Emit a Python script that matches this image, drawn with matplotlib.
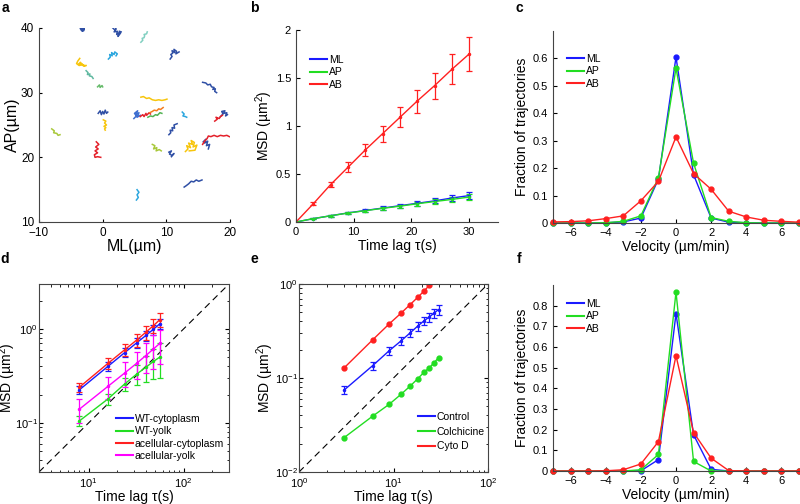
import numpy as np
import matplotlib
matplotlib.use("Agg")
import matplotlib.pyplot as plt
from matplotlib import ticker
from matplotlib.lines import Line2D

plt.rcParams['font.family'] = ['Liberation Sans', 'DejaVu Sans']
plt.rcParams['mathtext.fontset'] = 'custom'
plt.rcParams['mathtext.rm'] = 'Liberation Sans'
plt.rcParams['xtick.direction'] = 'in'
plt.rcParams['ytick.direction'] = 'in'
plt.rcParams['xtick.major.size'] = 3
plt.rcParams['ytick.major.size'] = 3
plt.rcParams['xtick.minor.size'] = 1.8
plt.rcParams['ytick.minor.size'] = 1.8
plt.rcParams['axes.linewidth'] = 0.8
plt.rcParams['axes.edgecolor'] = '#444444'

# ---- panel a: trajectories (colour, x, y) in um ----
DB, CY, YE, RD = '#2f4fa5', '#2ba6de', '#f7c50c', '#e4202a'
tracks = [
    (DB, [-3.5, -3.1, -3.3, -2.9, -3.2, -2.9, -3.4, -3.0], [39.9, 40.1, 39.6, 39.8, 39.5, 40.0, 39.7, 39.6]),
    (DB, [1.6, 1.9, 2.1, 1.8, 2.3, 2.2, 2.6, 2.4, 2.8, 2.6, 2.9], [40.0, 39.7, 39.9, 39.4, 39.5, 39.0, 39.3, 38.7, 39.2, 39.5, 39.4]),
    ('#80cfc0', [6.0, 6.3, 6.2, 6.5, 6.6, 6.5, 6.9, 7.0], [37.8, 38.1, 38.4, 38.5, 38.8, 39.0, 39.1, 39.4]),
    (DB, [10.6, 10.9, 10.7, 11.0, 10.9, 11.3, 11.2, 11.6, 11.5, 12.0], [35.2, 35.6, 35.9, 36.1, 36.5, 36.2, 36.7, 36.4, 36.0, 36.3]),
    (CY, [0.9, 1.2, 1.1, 1.5, 1.4, 1.8, 1.9, 2.3, 2.1], [35.2, 35.5, 35.9, 35.7, 36.2, 35.9, 36.3, 36.0, 35.7]),
    (YE, [-3.6, -3.9, -4.1, -3.7, -3.3, -2.8, -3.2, -3.8, -3.5, -3.1, -2.6], [35.3, 34.9, 34.5, 34.2, 34.3, 34.1, 34.4, 34.4, 34.7, 34.2, 34.2]),
    ('#5fb8a0', [-2.6, -2.3, -2.4, -2.0, -2.1, -1.7, -1.5], [33.4, 33.1, 32.8, 32.9, 32.6, 32.5, 32.2]),
    ('#66bb6a', [-0.8, -0.5, -0.4, -0.1, 0.0], [30.9, 31.2, 30.8, 31.1, 30.9]),
    (DB, [15.7, 16.2, 16.5, 16.9, 17.1, 17.5, 17.3, 17.7, 17.6, 17.9], [31.6, 31.5, 31.2, 31.3, 30.9, 30.8, 30.5, 30.6, 30.2, 30.0]),
    (YE, [6.0, 6.4, 6.9, 7.3, 7.8, 8.3, 8.8, 9.3, 9.8, 10.1], [29.3, 29.4, 29.1, 29.2, 28.9, 28.8, 28.9, 28.8, 28.9, 29.0]),
    (DB, [-0.7, -0.4, -0.2, 0.0, 0.2, 0.4, 0.6, 0.8], [26.8, 27.2, 26.6, 27.1, 26.7, 27.3, 26.8, 27.0]),
    (YE, [0.1, 0.5, 0.3, 0.6, 0.2, 0.5, 0.3, 0.4], [25.8, 25.6, 25.3, 25.0, 24.8, 24.6, 24.4, 24.2]),
    ('#3f6fd0', [4.9, 5.3, 5.0, 5.5, 5.2, 5.7, 5.4, 5.9], [26.0, 26.4, 26.8, 27.2, 26.6, 26.9, 26.2, 26.5]),
    (RD, [5.9, 6.3, 6.5, 6.8, 6.9, 7.3, 7.5], [26.3, 26.6, 26.3, 26.8, 26.5, 26.9, 26.7]),
    ('#f47c20', [7.4, 7.8, 8.1, 8.5, 8.8, 9.1, 9.5], [26.9, 27.1, 27.3, 27.2, 27.5, 27.4, 27.7]),
    ('#52b352', [7.1, 7.5, 7.9, 8.3, 8.6, 9.0, 9.3], [26.2, 26.4, 26.3, 26.6, 26.5, 26.9, 26.8]),
    (CY, [12.5, 12.8, 12.6, 13.0, 13.2], [27.0, 26.7, 26.4, 26.3, 26.2]),
    (DB, [18.5, 18.9, 18.7, 19.2, 19.0, 19.5, 19.3, 19.6], [26.3, 26.7, 27.1, 27.2, 26.8, 26.9, 26.4, 26.6]),
    (RD, [17.6, 18.0, 17.8, 18.3, 18.5, 18.8], [25.6, 25.9, 26.2, 26.0, 26.3, 26.5]),
    ('#a8c83a', [-8.0, -7.6, -7.7, -7.2, -7.0, -6.7], [24.4, 24.1, 23.8, 23.7, 23.4, 23.5]),
    (RD, [-1.0, -0.6, -1.1, -0.7, -1.2, -0.8, -1.3, -1.2, -0.8, -0.3], [22.4, 22.0, 21.6, 21.3, 21.0, 20.7, 20.4, 20.0, 20.1, 20.0]),
    (DB, [10.4, 10.7, 10.6, 11.0, 10.9, 11.3, 11.2, 11.7], [23.5, 23.8, 24.2, 24.1, 24.6, 24.5, 25.0, 25.2]),
    ('#a8c83a', [7.8, 8.2, 8.0, 8.5, 8.4, 8.9, 9.2], [22.0, 21.8, 21.3, 21.5, 21.0, 21.2, 21.0]),
    (DB, [10.4, 10.8, 10.5, 10.9, 11.2, 10.8], [20.8, 21.0, 20.5, 20.3, 20.6, 20.1]),
    (YE, [13.0, 13.4, 13.2, 13.8, 13.5, 14.1, 13.9, 14.4, 14.2, 14.8, 14.5, 13.6], [20.9, 21.3, 21.8, 21.5, 22.2, 22.0, 22.6, 22.3, 21.6, 21.9, 21.1, 21.0]),
    (DB, [15.8, 16.2, 16.0, 16.5, 16.3, 16.8, 16.6], [22.4, 22.8, 22.2, 22.5, 21.8, 22.0, 21.3]),
    (RD, [15.7, 16.0, 16.4, 16.6, 17.0, 17.5, 18.0, 18.5, 19.0, 19.5, 19.9], [22.0, 22.5, 22.9, 23.3, 23.2, 23.4, 23.2, 23.4, 23.3, 23.4, 23.2]),
    (DB, [12.8, 13.1, 13.5, 13.9, 14.3, 14.7, 15.1, 15.6], [15.4, 15.6, 15.9, 16.3, 16.2, 16.5, 16.3, 16.5]),
    (CY, [5.4, 5.7, 5.4, 5.6, 5.3], [15.0, 14.6, 14.2, 13.8, 13.4]),
]

# ---- panel b: MSD vs time lag ----
lag_b = [0, 3, 6, 9, 12, 15, 18, 21, 24, 27, 30]
msd_ml = [0, 0.035, 0.065, 0.095, 0.12, 0.145, 0.17, 0.195, 0.22, 0.25, 0.275]
msd_ap = [0, 0.035, 0.065, 0.093, 0.118, 0.142, 0.165, 0.19, 0.213, 0.235, 0.26]
msd_ab = [0, 0.19, 0.39, 0.57, 0.75, 0.92, 1.09, 1.26, 1.42, 1.59, 1.75]
err_ml = [0, 0.006, 0.009, 0.012, 0.015, 0.018, 0.021, 0.024, 0.027, 0.03, 0.033]
err_ap = [0, 0.005, 0.008, 0.01, 0.012, 0.014, 0.017, 0.02, 0.022, 0.025, 0.028]
err_ab = [0, 0.015, 0.03, 0.05, 0.065, 0.085, 0.105, 0.12, 0.135, 0.155, 0.175]

# ---- panels c, f: velocity distributions ----
vel = [-7, -6, -5, -4, -3, -2, -1, 0, 1, 2, 3, 4, 5, 6, 7]
c_ml = [0, 0, 0, 0.001, 0.004, 0.018, 0.16, 0.605, 0.176, 0.018, 0.003, 0.001, 0, 0, 0]
c_ap = [0, 0, 0, 0.001, 0.006, 0.026, 0.165, 0.565, 0.218, 0.02, 0.006, 0.001, 0, 0, 0]
c_ab = [0.004, 0.005, 0.008, 0.016, 0.026, 0.081, 0.152, 0.314, 0.18, 0.123, 0.043, 0.022, 0.01, 0.006, 0.003]
f_ml = [0, 0, 0, 0, 0, 0.001, 0.055, 0.762, 0.175, 0.008, 0, 0, 0, 0, 0]
f_ap = [0, 0, 0, 0, 0, 0.006, 0.08, 0.866, 0.046, 0, 0, 0, 0, 0, 0]
f_ab = [0, 0, 0, 0.001, 0.006, 0.034, 0.142, 0.558, 0.186, 0.062, 0.002, 0, 0, 0, 0]

# ---- panel d: log-log MSD, cytoplasm vs yolk ----
lag_d = [8, 16, 24, 32, 40, 48, 56]
d_wt_cyto = [0.225, 0.40, 0.56, 0.71, 0.85, 0.99, 1.13]
d_wt_yolk = [0.105, 0.18, 0.26, 0.33, 0.39, 0.45, 0.50]
d_ac_cyto = [0.24, 0.43, 0.60, 0.76, 0.92, 1.08, 1.25]
d_ac_yolk = [0.14, 0.245, 0.34, 0.43, 0.52, 0.61, 0.70]
e_wt_cyto = [0.02, 0.04, 0.06, 0.08, 0.10, 0.12, 0.14]
e_wt_yolk = [0.012, 0.025, 0.04, 0.08, 0.12, 0.16, 0.2]
e_ac_cyto = [0.025, 0.06, 0.09, 0.12, 0.15, 0.18, 0.21]
e_ac_yolk = [0.04, 0.065, 0.1, 0.14, 0.18, 0.24, 0.28]

# ---- panel e: drug treatments ----
lag_e = [3, 6, 9, 12, 15, 18, 21, 24, 27, 30]
e_control = [0.0744, 0.135, 0.195, 0.248, 0.302, 0.356, 0.405, 0.447, 0.492, 0.535]
e_control_err = [0.007, 0.013, 0.019, 0.025, 0.03, 0.036, 0.042, 0.048, 0.055, 0.065]
e_colch = [0.0232, 0.0392, 0.0525, 0.067, 0.082, 0.098, 0.115, 0.129, 0.146, 0.165]
lag_cyto = [3, 6, 9, 12, 15, 18, 21, 24]
e_cytod = [0.128, 0.254, 0.376, 0.489, 0.604, 0.72, 0.84, 0.97]

BLUE, GREEN, RED, MAG = '#1a1aff', '#22dd22', '#ff2020', '#ff00ff'
TICK_FS, LAB_FS = 8, 10

fig = plt.figure(figsize=(8, 5.04), dpi=100)
W, H = 800.0, 504.0


def box(l, t, r, b):
    return [l / W, 1 - b / H, (r - l) / W, (b - t) / H]


def fmt(v, p):
    return f'{v:g}'.replace('-', '\u2212')


def open_axes(ax):
    ax.spines['top'].set_visible(False)
    ax.spines['right'].set_visible(False)


def place_labels(ax, rect, xlab_y, ylab_x, half=7):
    # label centres given in figure pixels; anchors sit on the text's inner edge
    l, t, r, b = rect
    ax.xaxis.set_label_coords(0.5, -(xlab_y - half - b) / (b - t))
    ax.yaxis.set_label_coords((ylab_x + half - l) / (r - l), 0.5)


def add_legend(ax, items, x, y, spacing=0.22):
    handles = [Line2D([], [], color=c, lw=1.5) for c, _ in items]
    ax.legend(handles, [n for _, n in items], loc='upper left',
              bbox_to_anchor=(x / W, 1 - y / H), bbox_transform=fig.transFigure,
              frameon=False, fontsize=7.5, handlelength=1.6, handletextpad=0.2,
              labelspacing=spacing, borderpad=0, borderaxespad=0)


# a
ra = (39, 28, 230, 222)
ax = fig.add_axes(box(*ra))
for col, xs, ys in tracks:
    ax.plot(xs, ys, color=col, lw=1.1)
ax.set_xlim(-10, 20)
ax.set_ylim(10, 40)
ax.set_xticks([-10, 0, 10, 20])
ax.set_yticks([10, 20, 30, 40])
ax.xaxis.set_major_formatter(ticker.FuncFormatter(fmt))
ax.tick_params(labelsize=TICK_FS + 0.5, length=2)
ax.set_xlabel('ML(µm)', fontsize=11.5)
ax.set_ylabel('AP(µm)', fontsize=11.5)
place_labels(ax, ra, 247, 12, half=8)
open_axes(ax)

# b
rb = (296, 30, 498, 222)
ax = fig.add_axes(box(*rb))
for ys, es, col in [(msd_ml, err_ml, BLUE), (msd_ap, err_ap, GREEN), (msd_ab, err_ab, RED)]:
    ax.plot(lag_b, ys, color=col, lw=1)
    ax.errorbar(lag_b[1:], ys[1:], yerr=es[1:], fmt='.', ms=3, color=col, ecolor=col,
                elinewidth=0.9, capsize=2, capthick=0.9)
ax.set_xlim(0, 35)
ax.set_ylim(0, 2)
ax.set_xticks([0, 10, 20, 30])
ax.set_yticks([0, 0.5, 1, 1.5, 2])
ax.yaxis.set_major_formatter(ticker.FuncFormatter(fmt))
ax.tick_params(labelsize=TICK_FS)
ax.set_xlabel('Time lag τ(s)', fontsize=LAB_FS)
ax.set_ylabel('MSD (µm$^2$)', fontsize=LAB_FS)
place_labels(ax, rb, 246, 268)
add_legend(ax, [(BLUE, 'ML'), (GREEN, 'AP'), (RED, 'AB')], 310, 55)
open_axes(ax)


def velocity_panel(rect, ml, ap, ab, ymax, yticks, xlab_y, leg_y):
    ax = fig.add_axes(box(*rect))
    for ys, col in [(ml, BLUE), (ap, GREEN), (ab, RED)]:
        ax.plot(vel, ys, color=col, lw=1, marker='.', ms=7, clip_on=False)
    ax.set_xlim(-7, 7)
    ax.set_ylim(0, ymax)
    ax.set_xticks([-6, -4, -2, 0, 2, 4, 6])
    ax.set_yticks(yticks)
    ax.xaxis.set_major_formatter(ticker.FuncFormatter(fmt))
    ax.yaxis.set_major_formatter(ticker.FuncFormatter(fmt))
    ax.tick_params(labelsize=TICK_FS)
    ax.set_xlabel('Velocity (µm/min)', fontsize=LAB_FS)
    ax.set_ylabel('Fraction of trajectories', fontsize=LAB_FS)
    place_labels(ax, rect, xlab_y, 522)
    add_legend(ax, [(BLUE, 'ML'), (GREEN, 'AP'), (RED, 'AB')], 567, leg_y)
    open_axes(ax)
    return ax


# c
velocity_panel((553, 31, 799, 223), c_ml, c_ap, c_ab, 0.7, [0, 0.1, 0.2, 0.3, 0.4, 0.5, 0.6], 247, 54)
# f
velocity_panel((553, 285, 799, 471), f_ml, f_ap, f_ab, 0.9, [0, 0.1, 0.2, 0.3, 0.4, 0.5, 0.6, 0.7, 0.8], 495, 299)


def log_axes(ax, rect, ylab_x):
    ax.set_xscale('log')
    ax.set_yscale('log')
    ax.tick_params(which='both', top=True, right=True, labelsize=TICK_FS)
    ax.tick_params(axis='x', which='major', pad=3)
    ax.tick_params(axis='y', which='major', pad=1)
    ax.xaxis.set_minor_formatter(ticker.NullFormatter())
    ax.yaxis.set_minor_formatter(ticker.NullFormatter())
    ax.set_xlabel('Time lag τ(s)', fontsize=LAB_FS)
    ax.set_ylabel('MSD (µm$^2$)', fontsize=LAB_FS)
    place_labels(ax, rect, 497.5, ylab_x, half=7.5)


# d
rd = (39, 284, 229, 472)
ax = fig.add_axes(box(*rd))
ax.plot([3, 300], [0.03, 3], color='k', lw=0.8, dashes=(6, 4))
for ys, es, col in [(d_wt_cyto, e_wt_cyto, BLUE), (d_wt_yolk, e_wt_yolk, GREEN),
                    (d_ac_cyto, e_ac_cyto, RED), (d_ac_yolk, e_ac_yolk, MAG)]:
    ax.plot(lag_d, ys, color=col, lw=1)
    ax.errorbar(lag_d, ys, yerr=es, fmt='.', ms=3, color=col, ecolor=col,
                elinewidth=0.9, capsize=2, capthick=0.9)
ax.set_xlim(3, 300)
ax.set_ylim(0.03, 3)
log_axes(ax, rd, 11)
add_legend(ax, [(BLUE, 'WT-cytoplasm'), (GREEN, 'WT-yolk'), (RED, 'acellular-cytoplasm'),
                (MAG, 'acellular-yolk')], 116, 414)

# e
re_ = (299, 284, 488, 472)
ax = fig.add_axes(box(*re_))
ax.plot([1, 100], [0.01, 1], color='k', lw=0.8, dashes=(6, 4))
ax.errorbar(lag_e, e_control, yerr=e_control_err, color=BLUE, lw=1, marker='.', ms=3,
            elinewidth=0.9, capsize=2, capthick=0.9)
ax.plot(lag_e, e_colch, color=GREEN, lw=1, marker='.', ms=7)
ax.plot(lag_cyto, e_cytod, color=RED, lw=1, marker='.', ms=7)
ax.set_xlim(1, 100)
ax.set_ylim(0.01, 1)
log_axes(ax, re_, 268)
add_legend(ax, [(BLUE, 'Control'), (GREEN, 'Colchicine'), (RED, 'Cyto D')], 418, 412, spacing=0.45)

for lab, x, y in [('a', 5, 8), ('b', 254, 8), ('c', 519, 8), ('d', 5, 259), ('e', 254, 259), ('f', 519, 259)]:
    fig.text(x / W, 1 - y / H, lab, fontsize=10, fontweight='bold', va='center', ha='center')

fig.savefig('out.png', dpi=100)
